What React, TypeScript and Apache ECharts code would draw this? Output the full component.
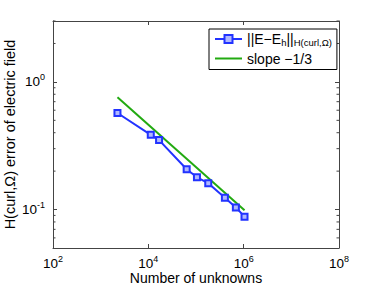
import React, { useEffect, useRef } from "react";
import * as echarts from "echarts";

const unknowns = [2250, 11250, 16800, 63700, 104700, 180700, 403800, 686000, 1042000];
const errors = [0.571, 0.385, 0.35, 0.207, 0.179, 0.161, 0.124, 0.104, 0.088];
const slopeX = [2250, 1042000];
const slopeY = [0.758, 0.0987];
const yMinorTicks = [0.06, 0.07, 0.08, 0.09, 0.2, 0.3, 0.4, 0.5, 0.6, 0.7, 0.8, 0.9, 2, 3];
const seriesNames = ["err", "slope"];

const FONT = "Liberation Sans";
const BLUE = "#2233ff";
const GREEN = "#22aa11";

const supFmt = (v: number) => {
  const n = Math.log10(v);
  const r = Math.round(n);
  if (Math.abs(n - r) > 1e-6) return "";
  return `{b|10}{s|${r}}`;
};
const rich = {
  b: { fontSize: 13.5, fontFamily: FONT, color: "#000" },
  s: { fontSize: 9, fontFamily: FONT, color: "#000", padding: [0, 0, 9, 0] },
};

export default function App() {
  const ref = useRef<HTMLDivElement>(null);
  useEffect(() => {
    const chart = echarts.init(ref.current!, null, { renderer: "svg" });
    const xCommon = {
      type: "log" as const,
      logBase: 10,
      min: 100,
      max: 1e8,
      interval: 2,
      axisLine: { show: true, lineStyle: { color: "#444", width: 1 } },
      axisTick: { show: true, inside: true, length: 4, lineStyle: { color: "#444" } },
      splitLine: { show: false },
    };
    const yCommon = {
      type: "log" as const,
      logBase: 10,
      min: 0.05,
      max: 3,
      axisLine: { show: true, lineStyle: { color: "#444", width: 1 } },
      axisTick: { show: true, inside: true, length: 4, lineStyle: { color: "#444" } },
      splitLine: { show: false },
    };
    chart.setOption({
      animation: false,
      backgroundColor: "#fff",
      grid: { left: 53, right: 35, top: 21, bottom: 39, containLabel: false, outerBoundsMode: "none" },
      xAxis: [
        {
          ...xCommon,
          position: "bottom",
          name: "Number of unknowns",
          nameLocation: "middle",
          nameGap: 23,
          nameMoveOverlap: false,
          nameTextStyle: { fontSize: 14, fontFamily: FONT, color: "#000" },
          axisLabel: { formatter: supFmt, rich, margin: 6, showMinLabel: true, showMaxLabel: true },
        },
        { ...xCommon, position: "top", axisLabel: { show: false } },
      ],
      yAxis: [
        {
          ...yCommon,
          position: "left",
          name: "H(curl,Ω) error of electric field",
          nameLocation: "middle",
          nameGap: 36,
          nameMoveOverlap: false,
          nameTextStyle: { fontSize: 14.5, fontFamily: FONT, color: "#000" },
          axisLabel: { formatter: supFmt, rich, margin: 8 },
        },
        { ...yCommon, position: "right", axisLabel: { show: false } },
      ],
      legend: {
        data: [
          { name: seriesNames[0] },
          { name: seriesNames[1], icon: "path://M0,0H27V2H0Z" },
        ],
        orient: "vertical",
        left: 209,
        top: 29,
        padding: [3, 5, 4, 5],
        itemGap: 4,
        itemWidth: 27,
        itemHeight: 10,
        borderColor: "#000",
        borderWidth: 1,
        borderRadius: 0,
        backgroundColor: "#fff",
        formatter: (name: string) =>
          name === "err" ? "{t|||E−E}{sub|h}{t|||}{sub|H(curl,Ω)}" : "{t|slope −1/3}",
        textStyle: {
          fontFamily: FONT,
          color: "#000",
          rich: {
            t: { fontSize: 14, fontFamily: FONT, color: "#000" },
            sub: { fontSize: 9.5, fontFamily: FONT, color: "#000", padding: [7, 0, 0, 0] },
          },
        },
      },
      series: [
        {
          name: "err",
          type: "line",
          data: unknowns.map((x, i) => [x, errors[i]]),
          symbol: "rect",
          symbolSize: 6,
          showAllSymbol: true,
          itemStyle: { color: "#b0b8ff", borderColor: BLUE, borderWidth: 2 },
          lineStyle: { color: BLUE, width: 2 },
          z: 3,
        },
        {
          name: "slope",
          type: "line",
          data: slopeX.map((x, i) => [x, slopeY[i]]),
          symbol: "none",
          itemStyle: { color: GREEN },
          lineStyle: { color: GREEN, width: 2 },
          z: 2,
        },
        {
          type: "custom",
          silent: true,
          clip: false,
          data: yMinorTicks.map((v) => [100, v]),
          renderItem: (params: any, api: any) => {
            const v = api.value(1);
            const l = api.coord([100, v]);
            const r = api.coord([1e8, v]);
            const st = { stroke: "#444", lineWidth: 1 };
            return {
              type: "group",
              children: [
                { type: "line", shape: { x1: l[0], y1: l[1], x2: l[0] + 2.5, y2: l[1] }, style: st },
                { type: "line", shape: { x1: r[0], y1: r[1], x2: r[0] - 2.5, y2: r[1] }, style: st },
              ],
            };
          },
          z: 1,
        },
      ],
    });
    return () => chart.dispose();
  }, []);
  return <div ref={ref} style={{ position: "fixed", left: 0, top: 0, width: 374, height: 287 }} />;
}
